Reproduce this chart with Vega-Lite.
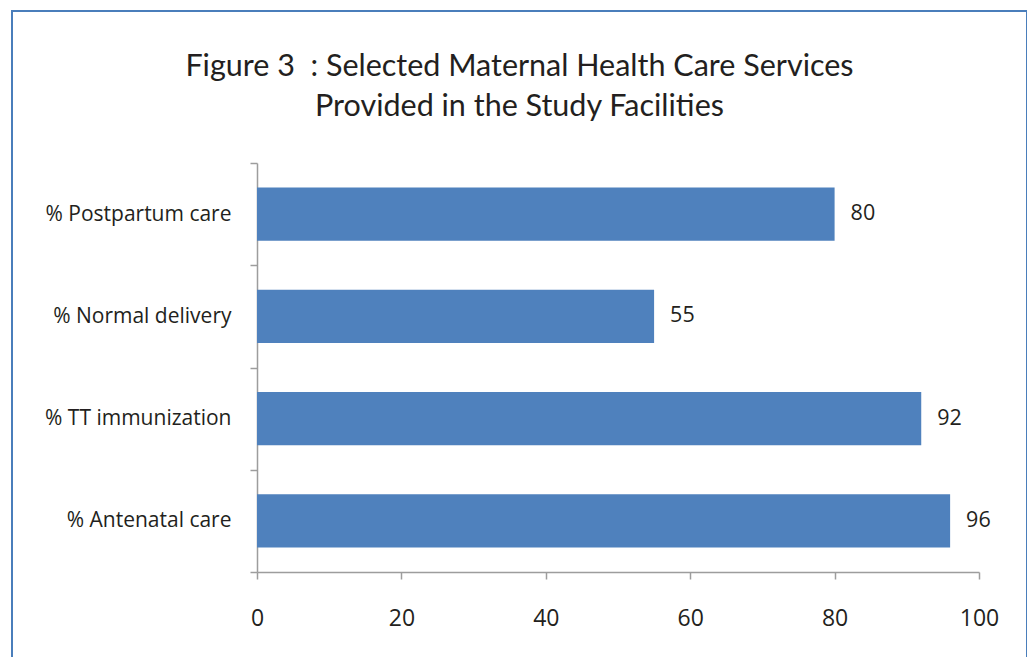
{
  "$schema": "https://vega.github.io/schema/vega-lite/v6.json",
  "autosize": {"type": "none"},
  "padding": {"left": 12, "top": 11, "right": 0, "bottom": 0},
  "width": 1015,
  "height": 660,
  "background": "white",
  "title": {
    "text": ["Figure 3\u00a0 : Selected Maternal Health Care Services", "Provided in the Study Facilities"],
    "anchor": "middle",
    "font": "Lato",
    "fontSize": 30.5,
    "fontWeight": "normal",
    "color": "#231f20",
    "lineHeight": 40,
    "baseline": "alphabetic",
    "dy": 150
  },
  "data": {
    "values": [
      {"service": "% Postpartum care", "value": 80},
      {"service": "% Normal delivery", "value": 55},
      {"service": "% TT immunization", "value": 92},
      {"service": "% Antenatal care", "value": 96}
    ]
  },
  "encoding": {
    "y": {
      "field": "service",
      "type": "nominal",
      "sort": null,
      "title": null,
      "scale": {"range": [152, 561], "paddingInner": 0, "paddingOuter": 0},
      "axis": {
        "orient": "left",
        "offset": -245,
        "tickBand": "extent",
        "tickSize": 7,
        "tickColor": "#9d9d9d",
        "tickWidth": 1.5,
        "domainColor": "#9d9d9d",
        "domainWidth": 1.5,
        "labelPadding": 19,
        "labelFont": "Open Sans",
        "labelFontSize": 21,
        "labelColor": "#231f20",
        "labelLimit": 300,
        "grid": false
      }
    },
    "x": {
      "field": "value",
      "type": "quantitative",
      "title": null,
      "scale": {"domain": [0, 100], "range": [245, 967], "nice": false},
      "axis": {
        "orient": "bottom",
        "offset": -99,
        "values": [0, 20, 40, 60, 80, 100],
        "tickSize": 7,
        "tickColor": "#9d9d9d",
        "tickWidth": 1.5,
        "domainColor": "#9d9d9d",
        "domainWidth": 1.5,
        "labelPadding": 28,
        "labelFlush": false,
        "labelFont": "Open Sans",
        "labelFontSize": 23,
        "labelColor": "#231f20",
        "grid": false
      }
    }
  },
  "layer": [
    {"mark": {"type": "bar", "color": "#4f81bd", "height": {"band": 0.52}}},
    {
      "mark": {"type": "text", "align": "left", "baseline": "middle", "dx": 16, "font": "Open Sans", "fontSize": 21.5, "color": "#231f20"},
      "encoding": {"text": {"field": "value", "type": "quantitative"}}
    }
  ],
  "config": {
    "view": {"stroke": "#4a7ebb", "strokeWidth": 2}
  }
}
